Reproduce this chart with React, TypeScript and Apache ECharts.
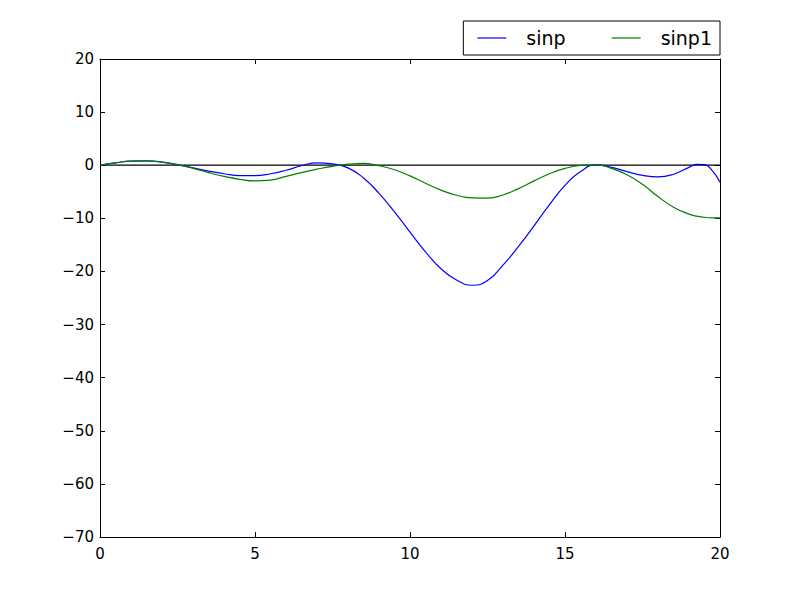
import React, { useEffect, useRef } from "react";
import * as echarts from "echarts";

const xValues = [0, 0.5, 1, 1.5, 2, 2.5, 3, 3.5, 4, 4.5, 5, 5.5, 6, 6.5, 7, 7.5, 8, 8.5, 9, 9.5, 10, 10.5, 11, 11.5, 12, 12.5, 13, 13.5, 14, 14.5, 15, 15.5, 16, 16.5, 17, 17.5, 18, 18.5, 19, 19.25, 19.5, 19.75, 20];

const sinp = [0, 0.45, 0.78, 0.82, 0.6, 0.12, -0.5, -1.1, -1.6, -1.95, -1.95, -1.6, -0.95, -0.1, 0.45, 0.25, -0.5, -2.4, -5.3, -8.8, -12.6, -16.3, -19.5, -21.6, -22.6, -21.7, -18.8, -15.3, -11.4, -7.4, -3.8, -1.2, 0.05, -0.4, -1.2, -1.9, -2.2, -1.7, -0.4, 0.15, 0.1, -1.0, -3.2];

const sinp1 = [0, 0.45, 0.78, 0.82, 0.6, 0.1, -0.6, -1.4, -2.1, -2.65, -2.95, -2.8, -2.1, -1.4, -0.75, -0.2, 0.2, 0.35, -0.1, -0.85, -2.0, -3.4, -4.7, -5.65, -6.15, -6.2, -5.6, -4.4, -2.95, -1.6, -0.6, -0.05, 0.05, -0.6, -1.8, -3.6, -5.9, -7.9, -9.2, -9.6, -9.8, -9.9, -9.9];

const zeroLineX = [0, 20];
const zeroLineY = [0, 0];

const seriesNames = ["sinp", "sinp1"];

const FONT = "DejaVu Sans";

export default function App() {
  const ref = useRef<HTMLDivElement>(null);
  useEffect(() => {
    if (!ref.current) return;
    const chart = echarts.init(ref.current, null, { renderer: "svg" });
    const pair = (ys: number[]) => xValues.map((x, i) => [x, ys[i]]);
    const fmt = (v: number) => String(v).replace("-", "\u2212");
    const axisCommon = {
      type: "value" as const,
      axisLine: { show: true, onZero: false, lineStyle: { color: "#000", width: 1 } },
      axisTick: { show: true, inside: true, length: 5, lineStyle: { color: "#000", width: 1 } },
      splitLine: { show: false },
    };
    chart.setOption({
      animation: false,
      backgroundColor: "#fff",
      grid: { left: 100, right: 80, top: 59, bottom: 60, containLabel: false, outerBoundsMode: "none" },
      legend: {
        right: 80,
        top: 21,
        orient: "horizontal",
        data: [
          { name: seriesNames[0], icon: "rect" },
          { name: seriesNames[1], icon: "rect" },
        ],
        itemWidth: 29,
        itemHeight: 1.2,
        itemGap: 46,
        padding: [7, 8, 7, 14],
        borderColor: "#000",
        borderWidth: 1,
        borderRadius: 0,
        backgroundColor: "#fff",
        textStyle: { fontFamily: FONT, fontSize: 19, color: "#000", padding: [0, 0, 0, 15], lineHeight: 20 },
      },
      xAxis: [
        {
          ...axisCommon,
          position: "bottom",
          min: 0,
          max: 20,
          interval: 5,
          axisLabel: { show: true, margin: 9, color: "#000", fontFamily: FONT, fontSize: 15, formatter: fmt },
        },
        {
          ...axisCommon,
          position: "top",
          min: 0,
          max: 20,
          interval: 5,
          axisLabel: { show: false },
        },
      ],
      yAxis: [
        {
          ...axisCommon,
          position: "left",
          min: -70,
          max: 20,
          interval: 10,
          axisLabel: { show: true, margin: 6, color: "#000", fontFamily: FONT, fontSize: 15, formatter: fmt },
        },
        {
          ...axisCommon,
          position: "right",
          min: -70,
          max: 20,
          interval: 10,
          axisLabel: { show: false },
        },
      ],
      series: [
        {
          name: "zero",
          type: "line",
          data: zeroLineX.map((x, i) => [x, zeroLineY[i]]),
          symbol: "none",
          lineStyle: { color: "#000", width: 1.2 },
          itemStyle: { color: "#000" },
          silent: true,
          z: 1,
        },
        {
          name: seriesNames[0],
          type: "line",
          data: pair(sinp),
          smooth: 0.5,
          symbol: "none",
          lineStyle: { color: "#0000ff", width: 1.2 },
          itemStyle: { color: "#0000ff" },
          z: 2,
        },
        {
          name: seriesNames[1],
          type: "line",
          data: pair(sinp1),
          smooth: 0.5,
          symbol: "none",
          lineStyle: { color: "#008000", width: 1.2 },
          itemStyle: { color: "#008000" },
          z: 3,
        },
      ],
    });
    return () => chart.dispose();
  }, []);
  return <div ref={ref} style={{ width: 800, height: 597, position: "absolute", left: 0, top: 0 }} />;
}
